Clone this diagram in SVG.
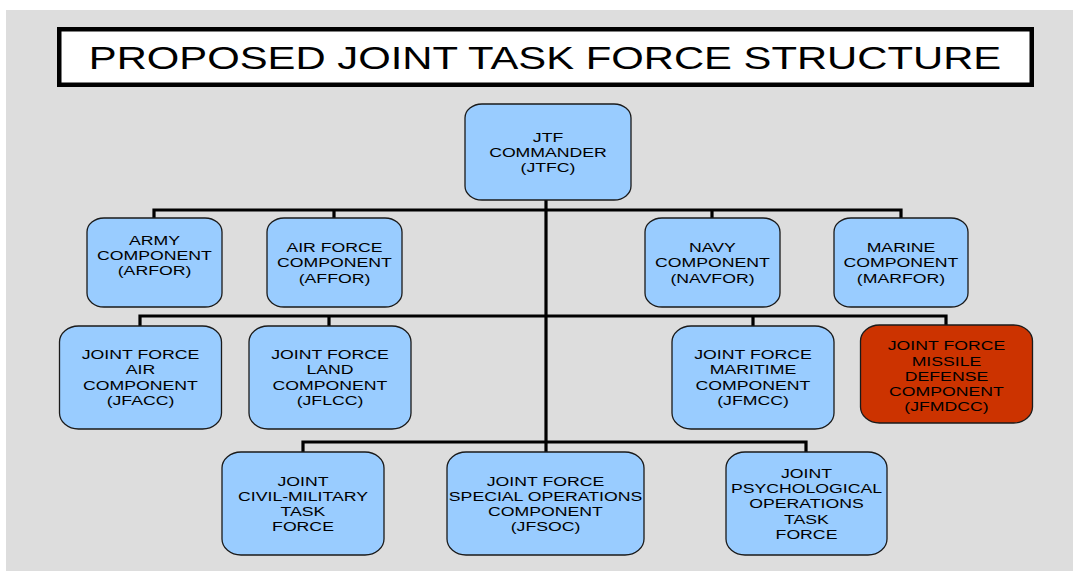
<svg xmlns="http://www.w3.org/2000/svg" width="1073" height="571" viewBox="0 0 1073 571">
<style>
.bg{fill:#dddddd}
.box{fill:#99ccff;stroke:#1a1a1a;stroke-width:1.3}
.red{fill:#cc3300;stroke:#1a1a1a;stroke-width:1.3}
.lbl{font-family:"Liberation Sans",Arial,sans-serif;font-size:13px;fill:#000;text-anchor:middle}
.title{font-family:"Liberation Sans",Arial,sans-serif;font-size:30.5px;fill:#000;text-anchor:middle}
.conn{fill:none;stroke:#000;stroke-width:3.2}
</style>
<rect width="1073" height="571" fill="#ffffff"/>
<rect class="bg" x="6" y="10" width="1067" height="561"/>
<g id="title">
<rect x="59.25" y="29.25" width="972.5" height="55.5" fill="#ffffff" stroke="#000" stroke-width="4.5"/>
<text class="title" transform="translate(545 0) scale(1.37 1)" x="0" y="69">PROPOSED JOINT TASK FORCE STRUCTURE</text>
</g>
<g id="connectors">
<path class="conn" d="M546 200 V442"/>
<path class="conn" d="M154 218 V210 H901 V218 M334 210 V218 M712 210 V218"/>
<path class="conn" d="M140 326 V316 H946 V325 M329 316 V326 M753 316 V326"/>
<path class="conn" d="M303 452 V442 H806 V452 M546 442 V452"/>
</g>
<g id="jtfc">
<rect class="box" x="465" y="104" width="166" height="96" rx="17" ry="14"/>
<text class="lbl" transform="translate(548 0) scale(1.36 1)"><tspan x="0" y="142">JTF</tspan><tspan x="0" y="157.2">COMMANDER</tspan><tspan x="0" y="172.4">(JTFC)</tspan></text>
</g>
<g id="arfor">
<rect class="box" x="87" y="218" width="135" height="89" rx="17" ry="14"/>
<text class="lbl" transform="translate(154.5 0) scale(1.36 1)"><tspan x="0" y="245">ARMY</tspan><tspan x="0" y="260.2">COMPONENT</tspan><tspan x="0" y="275.4">(ARFOR)</tspan></text>
</g>
<g id="affor">
<rect class="box" x="267" y="218" width="135" height="89" rx="17" ry="14"/>
<text class="lbl" transform="translate(334.5 0) scale(1.36 1)"><tspan x="0" y="252.3">AIR FORCE</tspan><tspan x="0" y="267.5">COMPONENT</tspan><tspan x="0" y="282.7">(AFFOR)</tspan></text>
</g>
<g id="navfor">
<rect class="box" x="645" y="218" width="135" height="89" rx="17" ry="14"/>
<text class="lbl" transform="translate(712.5 0) scale(1.36 1)"><tspan x="0" y="252.3">NAVY</tspan><tspan x="0" y="267.5">COMPONENT</tspan><tspan x="0" y="282.7">(NAVFOR)</tspan></text>
</g>
<g id="marfor">
<rect class="box" x="834" y="218" width="134" height="89" rx="17" ry="14"/>
<text class="lbl" transform="translate(901 0) scale(1.36 1)"><tspan x="0" y="252.3">MARINE</tspan><tspan x="0" y="267.5">COMPONENT</tspan><tspan x="0" y="282.7">(MARFOR)</tspan></text>
</g>
<g id="jfacc">
<rect class="box" x="59.5" y="326" width="162" height="103" rx="19" ry="16"/>
<text class="lbl" transform="translate(140.5 0) scale(1.36 1)"><tspan x="0" y="359">JOINT FORCE</tspan><tspan x="0" y="374.3">AIR</tspan><tspan x="0" y="389.6">COMPONENT</tspan><tspan x="0" y="404.9">(JFACC)</tspan></text>
</g>
<g id="jflcc">
<rect class="box" x="249" y="326" width="162" height="103" rx="19" ry="16"/>
<text class="lbl" transform="translate(330 0) scale(1.36 1)"><tspan x="0" y="359">JOINT FORCE</tspan><tspan x="0" y="374.3">LAND</tspan><tspan x="0" y="389.6">COMPONENT</tspan><tspan x="0" y="404.9">(JFLCC)</tspan></text>
</g>
<g id="jfmcc">
<rect class="box" x="672" y="326" width="162" height="103" rx="19" ry="16"/>
<text class="lbl" transform="translate(753 0) scale(1.36 1)"><tspan x="0" y="359">JOINT FORCE</tspan><tspan x="0" y="374.3">MARITIME</tspan><tspan x="0" y="389.6">COMPONENT</tspan><tspan x="0" y="404.9">(JFMCC)</tspan></text>
</g>
<g id="jfmdcc">
<rect class="red" x="860.5" y="325" width="172" height="98" rx="19" ry="16"/>
<text class="lbl" transform="translate(946.5 0) scale(1.36 1)"><tspan x="0" y="350.5">JOINT FORCE</tspan><tspan x="0" y="365.7">MISSILE</tspan><tspan x="0" y="380.9">DEFENSE</tspan><tspan x="0" y="396.1">COMPONENT</tspan><tspan x="0" y="411.3">(JFMDCC)</tspan></text>
</g>
<g id="jcmtf">
<rect class="box" x="222" y="452" width="162" height="103" rx="19" ry="16"/>
<text class="lbl" transform="translate(303 0) scale(1.36 1)"><tspan x="0" y="485.7">JOINT</tspan><tspan x="0" y="500.9">CIVIL-MILITARY</tspan><tspan x="0" y="516.1">TASK</tspan><tspan x="0" y="531.3">FORCE</tspan></text>
</g>
<g id="jfsoc">
<rect class="box" x="447" y="452" width="197" height="103" rx="19" ry="16"/>
<text class="lbl" transform="translate(545.5 0) scale(1.36 1)"><tspan x="0" y="485.7">JOINT FORCE</tspan><tspan x="0" y="500.9">SPECIAL OPERATIONS</tspan><tspan x="0" y="516.1">COMPONENT</tspan><tspan x="0" y="531.3">(JFSOC)</tspan></text>
</g>
<g id="jpotf">
<rect class="box" x="726" y="452" width="161" height="103" rx="19" ry="16"/>
<text class="lbl" transform="translate(806.5 0) scale(1.36 1)"><tspan x="0" y="478">JOINT</tspan><tspan x="0" y="493.2">PSYCHOLOGICAL</tspan><tspan x="0" y="508.4">OPERATIONS</tspan><tspan x="0" y="523.6">TASK</tspan><tspan x="0" y="538.8">FORCE</tspan></text>
</g>
</svg>
